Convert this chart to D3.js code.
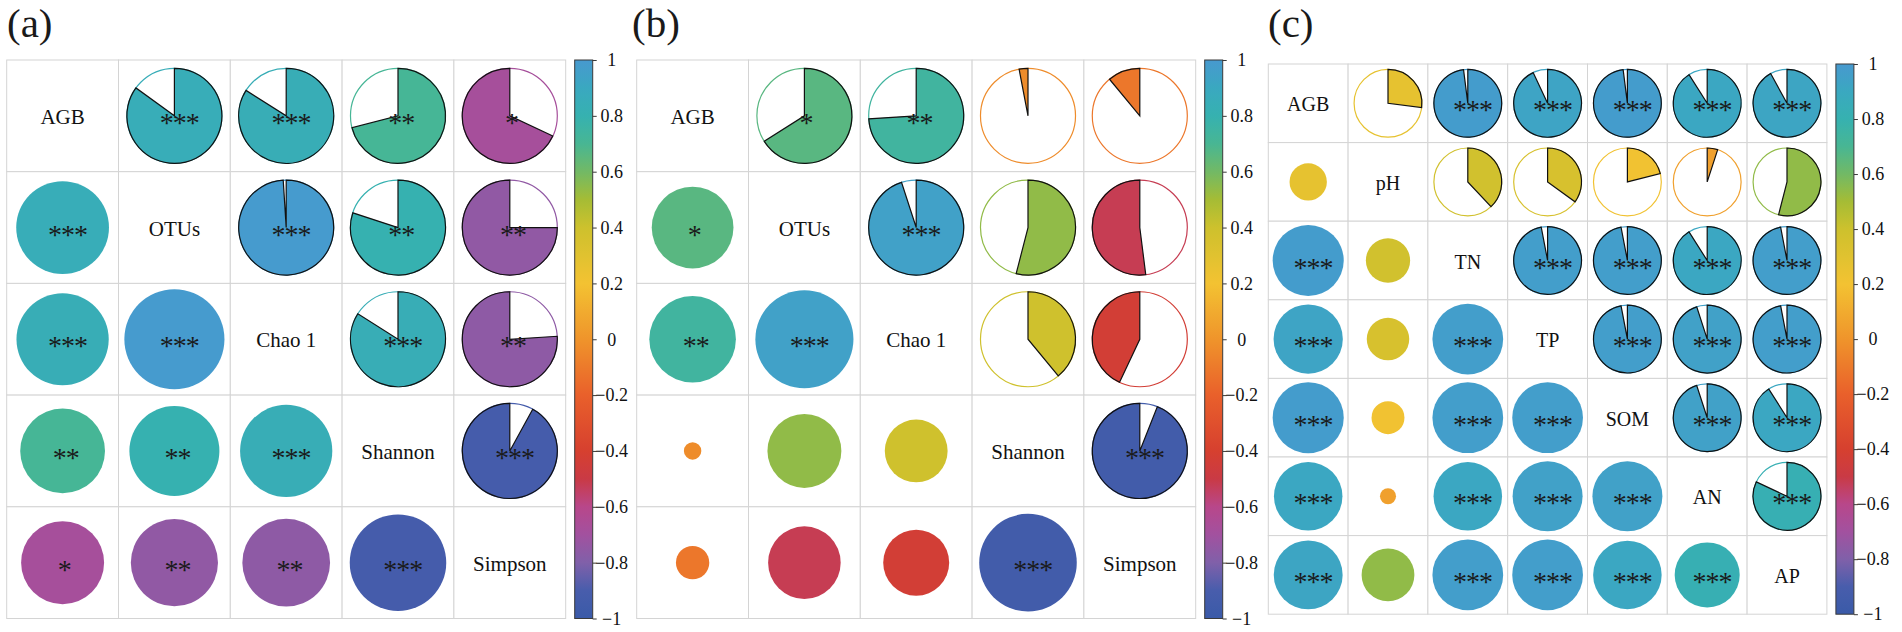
<!DOCTYPE html>
<html>
<head>
<meta charset="utf-8">
<title>Correlation plots</title>
<script src="https://d3js.org/d3.v7.min.js"></script>
<style>
  body { margin: 0; background: #fff; }
  text { font-family: "Liberation Serif", "Times New Roman", serif; }
</style>
</head>
<body>
<div id="chart"></div>
<script>
// ---- data ----
var varsA = ["AGB", "OTUs", "Chao 1", "Shannon", "Simpson"];
var corrA = [
    [ 1.00,  0.85,  0.84,  0.71, -0.68],
    [ 0.85,  1.00,  0.99,  0.80, -0.75],
    [ 0.84,  0.99,  1.00,  0.84, -0.76],
    [ 0.71,  0.80,  0.84,  1.00, -0.92],
    [-0.68, -0.75, -0.76, -0.92,  1.00]
];
var sigA = [
    ["",    "***", "***", "**",  "*"],
    ["***", "",    "***", "**",  "**"],
    ["***", "***", "",    "***", "**"],
    ["**",  "**",  "***", "",    "***"],
    ["*",   "**",  "**",  "***", ""]
];

var varsB = ["AGB", "OTUs", "Chao 1", "Shannon", "Simpson"];
var corrB = [
    [ 1.00,  0.66,  0.74, -0.03, -0.11],
    [ 0.66,  1.00,  0.95,  0.54, -0.52],
    [ 0.74,  0.95,  1.00,  0.39, -0.43],
    [-0.03,  0.54,  0.39,  1.00, -0.94],
    [-0.11, -0.52, -0.43, -0.94,  1.00]
];
var sigB = [
    ["",   "*",   "**",  "",    ""],
    ["*",  "",    "***", "",    ""],
    ["**", "***", "",    "",    ""],
    ["",   "",    "",    "",    "***"],
    ["",   "",    "",    "***", ""]
];

var varsC = ["AGB", "pH", "TN", "TP", "SOM", "AN", "AP"];
var corrC = [
    [1.00, 0.27, 0.98, 0.93, 0.98, 0.91, 0.92],
    [0.27, 1.00, 0.38, 0.35, 0.21, 0.05, 0.54],
    [0.98, 0.38, 1.00, 0.97, 0.97, 0.91, 0.97],
    [0.93, 0.35, 0.97, 1.00, 0.97, 0.95, 0.97],
    [0.98, 0.21, 0.97, 0.97, 1.00, 0.95, 0.91],
    [0.91, 0.05, 0.91, 0.95, 0.95, 1.00, 0.82],
    [0.92, 0.54, 0.97, 0.97, 0.91, 0.82, 1.00]
];
var sigC = [
    ["",    "", "***", "***", "***", "***", "***"],
    ["",    "", "",    "",    "",    "",    ""],
    ["***", "", "",    "***", "***", "***", "***"],
    ["***", "", "***", "",    "***", "***", "***"],
    ["***", "", "***", "***", "",    "***", "***"],
    ["***", "", "***", "***", "***", "",    "***"],
    ["***", "", "***", "***", "***", "***", ""]
];

var cbTicks = [1, 0.8, 0.6, 0.4, 0.2, 0, -0.2, -0.4, -0.6, -0.8, -1];

// colour ramp of the colour bar
var rampStops  = [-1, -0.9, -0.8, -0.7, -0.6, -0.5, -0.4, -0.2, 0, 0.2, 0.4, 0.5, 0.6, 0.7, 0.8, 0.9, 1];
var rampColors = ["#3a5aa8", "#485dac", "#8060a9", "#a2519f", "#b8478a", "#c93a45", "#d6402f",
                  "#e9602b", "#ef942b", "#f3c232", "#cdc12d", "#a5bc35", "#72b965", "#48b693",
                  "#36b1b0", "#3aa8c0", "#4799cf"];

var color = d3.scaleLinear().domain(rampStops).range(rampColors).interpolate(d3.interpolateRgb);

var svg = d3.select("#chart").append("svg")
    .attr("width", 1902)
    .attr("height", 632);

// gradient for colour bars
var grad = svg.append("defs").append("linearGradient")
    .attr("id", "cbGrad")
    .attr("x1", 0).attr("y1", 1).attr("x2", 0).attr("y2", 0);
d3.range(0, 1.0001, 0.025).forEach(function (t) {
    grad.append("stop")
        .attr("offset", t)
        .attr("stop-color", color(t * 2 - 1));
});

function drawPanel(cfg, vars, corr, sig) {
    var n = vars.length;
    var g = svg.append("g");
    var x = d3.scaleBand().domain(d3.range(n)).range([cfg.x0, cfg.x0 + n * cfg.cw]);
    var y = d3.scaleBand().domain(d3.range(n)).range([cfg.y0, cfg.y0 + n * cfg.ch]);
    var pieR = 0.425 * cfg.cw;
    var rad = d3.scaleSqrt().domain([0, 1]).range([0, 0.45 * cfg.cw]);
    var arc = d3.arc().innerRadius(0).outerRadius(pieR);

    // panel letter
    g.append("text")
        .attr("x", cfg.lx)
        .attr("y", 37)
        .attr("font-size", "41px")
        .attr("fill", "#1a1a1a")
        .text(cfg.label);

    var cells = [];
    for (var i = 0; i < n; ++i)
        for (var j = 0; j < n; ++j)
            cells.push({ i: i, j: j, r: corr[i][j], s: sig[i][j] });

    g.selectAll("rect.cell").data(cells).enter().append("rect")
        .attr("class", "cell")
        .attr("x", function (d) { return x(d.j); })
        .attr("y", function (d) { return y(d.i); })
        .attr("width", x.bandwidth())
        .attr("height", y.bandwidth())
        .attr("fill", "white")
        .attr("stroke", "#d4d4d4")
        .attr("stroke-width", 1);

    var cx = function (d) { return x(d.j) + x.bandwidth() / 2; };
    var cy = function (d) { return y(d.i) + y.bandwidth() / 2; };

    // lower triangle: circles
    g.selectAll("circle.low").data(cells.filter(function (d) { return d.i > d.j; }))
        .enter().append("circle")
        .attr("class", "low")
        .attr("cx", cx)
        .attr("cy", cy)
        .attr("r", function (d) { return rad(Math.abs(d.r)); })
        .attr("fill", function (d) { return color(d.r); });

    // upper triangle: pies
    var up = g.selectAll("g.pie").data(cells.filter(function (d) { return d.i < d.j; }))
        .enter().append("g")
        .attr("class", "pie")
        .attr("transform", function (d) { return "translate(" + cx(d) + "," + cy(d) + ")"; });
    up.append("circle")
        .attr("r", pieR)
        .attr("fill", "white")
        .attr("stroke", function (d) { return color(d.r); })
        .attr("stroke-width", 1.2);
    up.append("path")
        .attr("d", function (d) {
            var a = 2 * Math.PI * d.r;
            return d.r >= 0 ? arc({ startAngle: 0, endAngle: a }) : arc({ startAngle: a, endAngle: 0 });
        })
        .attr("fill", function (d) { return color(d.r); })
        .attr("stroke", "#111")
        .attr("stroke-width", 1.2);

    // significance stars
    g.selectAll("text.sig").data(cells.filter(function (d) { return d.s !== ""; }))
        .enter().append("text")
        .attr("class", "sig")
        .attr("x", function (d) { return cx(d) + 1.6 * d.s.length; })
        .attr("y", function (d) { return cy(d) + 16; })
        .attr("text-anchor", "middle")
        .attr("font-size", "28px")
        .attr("letter-spacing", "-1px")
        .attr("fill", "#1a1a1a")
        .text(function (d) { return d.s; });

    // diagonal: variable names
    g.selectAll("text.var").data(vars)
        .enter().append("text")
        .attr("class", "var")
        .attr("x", function (d, k) { return x(k) + x.bandwidth() / 2; })
        .attr("y", function (d, k) { return y(k) + y.bandwidth() / 2 + 8; })
        .attr("text-anchor", "middle")
        .attr("font-size", cfg.fs + "px")
        .attr("fill", "#111")
        .text(function (d) { return d; });

    // colour bar
    var bx = cfg.x0 + n * cfg.cw + 9;
    var bw = 18;
    var top = cfg.y0, bottom = cfg.y0 + n * cfg.ch;
    g.append("rect")
        .attr("x", bx).attr("y", top)
        .attr("width", bw).attr("height", bottom - top)
        .attr("fill", "url(#cbGrad)")
        .attr("stroke", "#3a3a3a")
        .attr("stroke-width", 1);
    var cbScale = d3.scaleLinear().domain([-1, 1]).range([bottom, top]);
    var ax = g.append("g")
        .attr("transform", "translate(" + (bx + bw) + ",0)")
        .call(d3.axisRight(cbScale).tickValues(cbTicks).tickSize(4).tickFormat(d3.format("~g")));
    ax.select(".domain").remove();
    ax.selectAll(".tick line").attr("stroke", "#3a3a3a");
    ax.selectAll(".tick text")
        .attr("x", 19)
        .attr("text-anchor", "middle")
        .attr("font-size", "18px")
        .attr("font-family", "'Liberation Serif', 'Times New Roman', serif")
        .attr("fill", "#111");
}

drawPanel({ label: "(a)", lx: 7,    x0: 6.7,    y0: 60, cw: 111.8, ch: 111.7, fs: 21 }, varsA, corrA, sigA);
drawPanel({ label: "(b)", lx: 632,  x0: 636.7,  y0: 60, cw: 111.8, ch: 111.7, fs: 21 }, varsB, corrB, sigB);
drawPanel({ label: "(c)", lx: 1268, x0: 1268.3, y0: 64, cw: 79.8,  ch: 78.6,  fs: 20 }, varsC, corrC, sigC);
</script>
</body>
</html>
